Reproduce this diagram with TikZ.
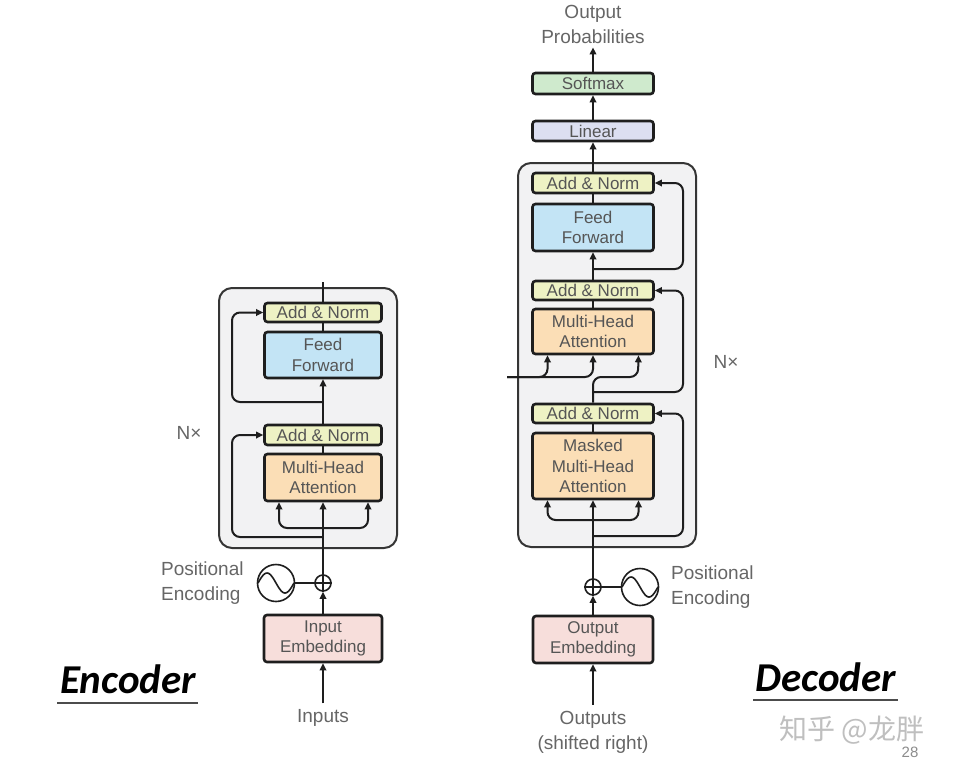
\documentclass[tikz,border=0pt]{standalone}
\usepackage{fontspec}
\setmainfont{Liberation Sans}
\newfontfamily\labfont{Carlito}
\newfontfamily\cjkfont{Noto Sans CJK SC}
\usetikzlibrary{arrows.meta,calc}
\definecolor{addc}{HTML}{EEF2C4}
\definecolor{ffc}{HTML}{C3E4F5}
\definecolor{mhac}{HTML}{FBDEB6}
\definecolor{embc}{HTML}{F7DEDB}
\definecolor{smc}{HTML}{CFEACD}
\definecolor{linc}{HTML}{DCDFF1}
\definecolor{outc}{HTML}{F2F2F3}
\definecolor{txtg}{HTML}{555555}
\definecolor{labg}{HTML}{666666}
\definecolor{edge}{HTML}{1E1E1E}
\tikzset{
  blk/.style={draw=edge, line width=2.6pt, rounded corners=3pt, inner sep=0pt,
    align=center, text=txtg, font=\fontsize{17}{20.5}\selectfont, minimum width=117pt},
  outer/.style={draw=edge!90, fill=outc, line width=2pt, rounded corners=13pt, inner sep=0pt},
  lbl/.style={text=labg, align=center, font=\fontsize{19}{25}\selectfont, inner sep=0pt},
  arr/.style={line width=2pt, draw=edge, -{Triangle[length=7pt,width=6.5pt]}},
  ln/.style={line width=2pt, draw=edge},
  rarr/.style={arr, rounded corners=8pt},
  ring/.style={circle, draw=edge, line width=1.6pt, inner sep=0pt},
  title/.style={font=\labfont\bfseries\itshape\fontsize{41}{44}\selectfont, text=black, inner sep=0pt, anchor=base}
}
\begin{document}
\begin{tikzpicture}[x=1pt,y=-1pt]
\useasboundingbox[fill=white] (0,0) rectangle (953,772);

% ---------- outer blocks ----------
\node[outer, minimum width=178pt, minimum height=260pt] (encBlock) at (308,418) {};
\node[outer, minimum width=178pt, minimum height=384pt] (decBlock) at (607,355) {};

% ---------- encoder nodes ----------
\node[blk, fill=addc, minimum height=19pt] (encAN2) at (323,312.5) {Add \& Norm};
\node[blk, fill=ffc, minimum height=46pt] (encFF) at (323,355) {Feed\\Forward};
\node[blk, fill=addc, minimum height=20pt] (encAN1) at (323,435) {Add \& Norm};
\node[blk, fill=mhac, minimum height=47pt] (encMHA) at (323,477.5) {Multi-Head\\Attention};
\node[blk, fill=embc, minimum height=47pt, minimum width=118pt] (encEmb) at (323,638.5) {Input\\Embedding};
\node[ring, minimum size=16pt] (eplus) at (323,583) {};
\node[ring, minimum size=37pt] (esin) at (276,583) {};
\node[lbl, anchor=west, align=left] (epos) at (161,583) {Positional\\Encoding};
\node[lbl] (inputs) at (323,718) {Inputs};
\node[lbl] (enx) at (189,433) {N×};
\coordinate (encOut) at (323,282);

% ---------- decoder nodes ----------
\node[blk, fill=smc, minimum height=21pt, minimum width=121pt] (softmax) at (593,83.5) {Softmax};
\node[blk, fill=linc, minimum height=20pt, minimum width=121pt] (linear) at (593,131) {Linear};
\node[blk, fill=addc, minimum height=20pt, minimum width=121pt] (decAN3) at (593,183) {Add \& Norm};
\node[blk, fill=ffc, minimum height=47pt, minimum width=121pt] (decFF) at (593,227.5) {Feed\\Forward};
\node[blk, fill=addc, minimum height=19pt, minimum width=121pt] (decAN2) at (593,290.5) {Add \& Norm};
\node[blk, fill=mhac, minimum height=45pt, minimum width=121pt] (decMHA) at (593,331.5) {Multi-Head\\Attention};
\node[blk, fill=addc, minimum height=19pt, minimum width=121pt] (decAN1) at (593,413.5) {Add \& Norm};
\node[blk, fill=mhac, minimum height=66pt, minimum width=121pt] (decMMHA) at (593,466) {Masked\\Multi-Head\\Attention};
\node[blk, fill=embc, minimum height=47pt, minimum width=120pt] (decEmb) at (593,639.5) {Output\\Embedding};
\node[ring, minimum size=16pt] (dplus) at (593,587) {};
\node[ring, minimum size=37pt] (dsin) at (640,587) {};
\node[lbl, anchor=west, align=left] (dpos) at (671,587) {Positional\\Encoding};
\node[lbl] (outputs) at (593,732) {Outputs\\(shifted right)};
\node[lbl] (outprob) at (593,24) {Output\\Probabilities};
\node[lbl] (dnx) at (726,362) {N×};
\coordinate (encIn) at (507,377);

% ---------- symbols ----------
\draw[ln, line width=1.6pt] (eplus.north) -- (eplus.south) (eplus.west) -- (eplus.east);
\draw[ln, line width=1.6pt] (dplus.north) -- (dplus.south) (dplus.west) -- (dplus.east);
\draw[ln, line width=1.6pt, domain=-18:18, samples=40, shift={(276,583)}] plot (\x, {10*sin(\x/18*180)});
\draw[ln, line width=1.6pt, domain=-18:18, samples=40, shift={(640,587)}] plot (\x, {10*sin(\x/18*180)});
\draw[ln, line width=1.6pt] (esin.east) -- (eplus.west);
\draw[ln, line width=1.6pt] (dsin.west) -- (dplus.east);

% ---------- encoder connectors ----------
\draw[arr] ([yshift=6pt]inputs.north) -- (encEmb.south);
\draw[arr] (encEmb.north) -- (eplus.south);
\draw[arr] (eplus.north) -- (encMHA.south);
\draw[rarr] (323,528) -| ([xshift=-44pt]encMHA.south);
\draw[rarr] (323,528) -| ([xshift=45pt]encMHA.south);
\draw[rarr] (323,537) -| (232,435) -- (encAN1.west);
\draw[ln] (encMHA.north) -- (encAN1.south);
\draw[arr] (encAN1.north) -- (encFF.south);
\draw[rarr] (323,402) -| (232,312.5) -- (encAN2.west);
\draw[ln] (encFF.north) -- (encAN2.south);
\draw[ln] (encAN2.north) -- (encOut);

% ---------- decoder connectors ----------
\draw[arr] ([yshift=6pt]outputs.north) -- (decEmb.south);
\draw[arr] (decEmb.north) -- (dplus.south);
\draw[arr] (dplus.north) -- (decMMHA.south);
\draw[rarr] (593,520) -| ([xshift=-45.5pt]decMMHA.south);
\draw[rarr] (593,520) -| ([xshift=45.5pt]decMMHA.south);
\draw[rarr] (593,536) -| (683,413.5) -- (decAN1.east);
\draw[ln] (decMMHA.north) -- (decAN1.south);
\draw[rarr] (decAN1.north) |- (638,377) -- ([xshift=45.5pt]decMHA.south);
\draw[rarr] (593,392) -| (683,290.5) -- (decAN2.east);
\draw[rarr] (encIn) -| ([xshift=-45.5pt]decMHA.south);
\draw[rarr] (encIn) -| (decMHA.south);
\draw[ln] (decMHA.north) -- (decAN2.south);
\draw[arr] (decAN2.north) -- (decFF.south);
\draw[rarr] (593,269) -| (683,183) -- (decAN3.east);
\draw[ln] (decFF.north) -- (decAN3.south);
\draw[arr] (decAN3.north) -- (linear.south);
\draw[arr] (linear.north) -- (softmax.south);
\draw[arr] (softmax.north) -- ([yshift=-4pt]outprob.south);

% ---------- titles and marks ----------
\node[title] (enctitle) at (128,693) {Encoder};
\draw[draw=black!70, line width=1.3pt] (57,703) -- (198,703);
\node[title] (dectitle) at (826,691) {Decoder};
\draw[draw=black!70, line width=1.3pt] (753,700) -- (898,700);
\node[text=black!25, font=\cjkfont\fontsize{28}{30}\selectfont, inner sep=0pt] (wm) at (852,730) {知乎 @龙胖};
\node[text=black!45, font=\fontsize{15}{17}\selectfont, inner sep=0pt] (pg) at (910,752) {28};
\end{tikzpicture}
\end{document}
